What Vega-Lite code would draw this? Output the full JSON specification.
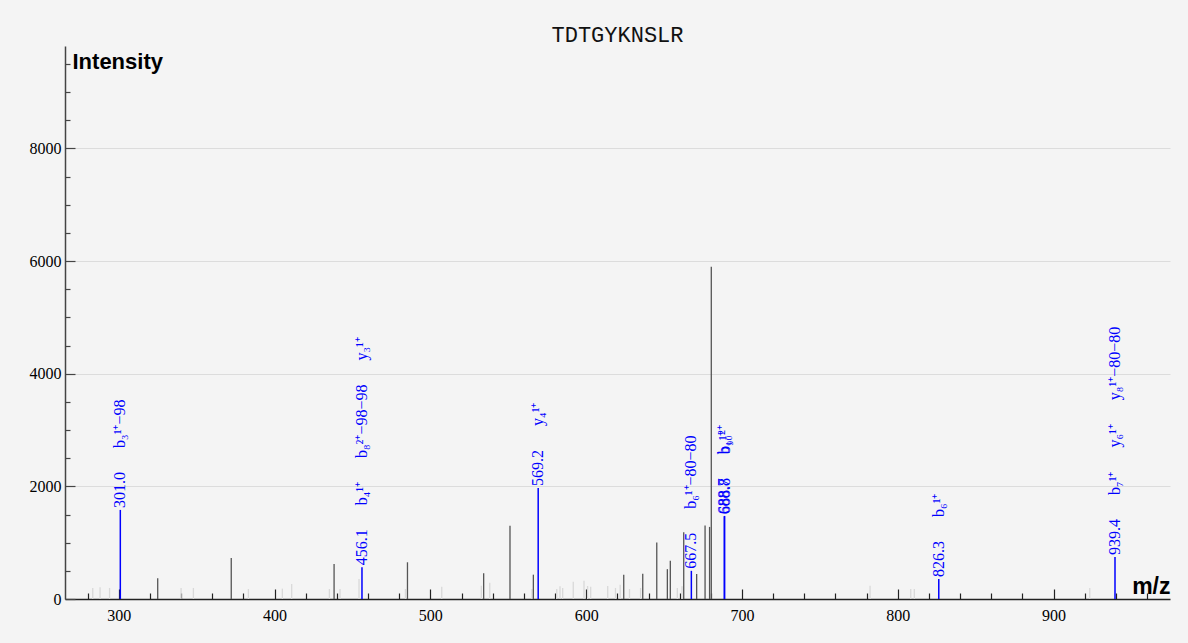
{
  "$schema": "https://vega.github.io/schema/vega-lite/v6.json",
  "width": 1105,
  "height": 553,
  "autosize": {"type": "none"},
  "padding": {"left": 65, "top": 46, "right": 18, "bottom": 44},
  "background": "#f4f4f4",
  "title": {"text": "TDTGYKNSLR", "font": "Courier New, Liberation Mono, monospace", "fontSize": 22, "fontWeight": "normal", "color": "#111", "anchor": "middle", "baseline": "alphabetic", "offset": 5, "dy": 23},
  "config": {"view": {"stroke": null}},
  "datasets": {
    "peaks": [
      {"mz": 283.3, "i": 196, "c": "l"}, {"mz": 288.0, "i": 207, "c": "l"}, {"mz": 294.1, "i": 196, "c": "l"},
      {"mz": 325.0, "i": 368, "c": "d"}, {"mz": 340.0, "i": 196, "c": "l"}, {"mz": 347.9, "i": 196, "c": "l"},
      {"mz": 372.2, "i": 729, "c": "d"}, {"mz": 383.2, "i": 178, "c": "l"}, {"mz": 405.0, "i": 184, "c": "l"},
      {"mz": 411.0, "i": 267, "c": "l"}, {"mz": 435.2, "i": 178, "c": "l"}, {"mz": 438.2, "i": 620, "c": "d"},
      {"mz": 442.0, "i": 178, "c": "l"}, {"mz": 454.2, "i": 356, "c": "l"}, {"mz": 484.0, "i": 178, "c": "l"},
      {"mz": 485.3, "i": 652, "c": "d"}, {"mz": 507.3, "i": 219, "c": "l"}, {"mz": 532.7, "i": 237, "c": "l"},
      {"mz": 534.2, "i": 456, "c": "d"}, {"mz": 538.1, "i": 290, "c": "l"}, {"mz": 551.1, "i": 1300, "c": "d"},
      {"mz": 565.2, "i": 178, "c": "l"}, {"mz": 566.1, "i": 432, "c": "d"}, {"mz": 581.1, "i": 178, "c": "l"},
      {"mz": 583.2, "i": 225, "c": "l"}, {"mz": 584.9, "i": 196, "c": "l"}, {"mz": 591.7, "i": 308, "c": "l"},
      {"mz": 598.6, "i": 325, "c": "l"}, {"mz": 600.9, "i": 231, "c": "l"}, {"mz": 602.9, "i": 219, "c": "l"},
      {"mz": 613.8, "i": 231, "c": "l"}, {"mz": 618.8, "i": 196, "c": "l"}, {"mz": 621.8, "i": 255, "c": "l"},
      {"mz": 624.1, "i": 432, "c": "d"}, {"mz": 627.8, "i": 178, "c": "l"}, {"mz": 634.9, "i": 196, "c": "l"},
      {"mz": 636.3, "i": 450, "c": "d"}, {"mz": 645.3, "i": 1005, "c": "d"}, {"mz": 652.1, "i": 530, "c": "d"},
      {"mz": 654.0, "i": 678, "c": "d"}, {"mz": 658.5, "i": 196, "c": "l"}, {"mz": 661.5, "i": 225, "c": "l"},
      {"mz": 662.6, "i": 1184, "c": "d"}, {"mz": 670.9, "i": 444, "c": "d"}, {"mz": 676.3, "i": 1303, "c": "d"},
      {"mz": 679.2, "i": 1280, "c": "d"}, {"mz": 680.3, "i": 5902, "c": "d"}, {"mz": 782.2, "i": 237, "c": "l"},
      {"mz": 808.3, "i": 178, "c": "l"}, {"mz": 810.6, "i": 178, "c": "l"}, {"mz": 923.2, "i": 196, "c": "l"}
    ],
    "ann": [
      {"mz": 301.0, "i": 1582, "label": "301.0\u2003\u2002b₃¹⁺−98"},
      {"mz": 456.1, "i": 562, "label": "456.1\u2003\u2002b₄¹⁺\u2003\u2002b₈²⁺−98−98\u2003\u2002y₃¹⁺"},
      {"mz": 569.2, "i": 1973, "label": "569.2\u2003\u2002y₄¹⁺"},
      {"mz": 667.5, "i": 500, "label": "667.5\u2003\u2002b₆¹⁺−80−80"},
      {"mz": 688.7, "i": 1469, "label": "688.7\u2003\u2002b₁₀²⁺"},
      {"mz": 688.8, "i": 1475, "label": "688.8\u2003\u2002b₉¹⁺"},
      {"mz": 826.3, "i": 356, "label": "826.3\u2003\u2002b₆¹⁺"},
      {"mz": 939.4, "i": 747, "label": "939.4\u2003\u2002b₇¹⁺\u2003\u2002y₆¹⁺\u2003\u2002y₈¹⁺−80−80"}
    ]
  },
  "encoding": {
    "x": {
      "field": "mz", "type": "quantitative",
      "scale": {"domain": [265.5, 974.7], "nice": false, "zero": false},
      "axis": {
        "title": "m/z", "titleAngle": 0, "titleX": 1105, "titleY": -6, "titleAlign": "right", "titleBaseline": "alphabetic",
        "titleFont": "Liberation Sans", "titleFontSize": 23, "titleFontWeight": "bold", "titleColor": "#000",
        "values": [280,300,320,340,360,380,400,420,440,460,480,500,520,540,560,580,600,620,640,660,680,700,720,740,760,780,800,820,840,860,880,900,920,940,960],
        "labelExpr": "datum.value % 100 === 0 ? datum.label : ''",
        "format": "d",
        "labelFont": "Liberation Serif", "labelFontSize": 16, "labelColor": "#000",
        "labelPadding": 18, "labelBaseline": "top",
        "tickSize": {"condition": {"test": "datum.value % 100 === 0", "value": -10}, "value": -6},
        "tickColor": "#222", "tickWidth": 1.2,
        "domainColor": "#222", "domainWidth": 1.5,
        "grid": false
      }
    },
    "y": {
      "field": "i", "type": "quantitative",
      "scale": {"domain": [0, 9820], "nice": false},
      "axis": {
        "title": "Intensity", "titleAngle": 0, "titleX": 7, "titleY": 22, "titleAlign": "left", "titleBaseline": "alphabetic",
        "titleFont": "Liberation Sans", "titleFontSize": 22, "titleFontWeight": "bold", "titleColor": "#000",
        "values": [0,500,1000,1500,2000,2500,3000,3500,4000,4500,5000,5500,6000,6500,7000,7500,8000,8500,9000,9500],
        "labelExpr": "datum.value % 2000 === 0 ? datum.label : ''",
        "format": "d",
        "labelFont": "Liberation Serif", "labelFontSize": 16, "labelColor": "#000",
        "labelPadding": 14,
        "tickSize": {"condition": {"test": "datum.value % 2000 === 0", "value": -10}, "value": -5},
        "tickColor": "#444", "tickWidth": 1.2,
        "domainColor": "#444", "domainWidth": 1.5,
        "grid": true, "gridColor": "#dcdcdc", "gridWidth": 1,
        "gridOpacity": {"condition": {"test": "datum.value % 2000 === 0 && datum.value > 0", "value": 1}, "value": 0}
      }
    }
  },
  "layer": [
    {
      "data": {"name": "peaks"},
      "mark": {"type": "rule", "strokeWidth": 1.3},
      "encoding": {
        "y2": {"datum": 0},
        "color": {"field": "c", "type": "nominal", "scale": {"domain": ["d", "l"], "range": ["#555555", "#d9d9d9"]}, "legend": null}
      }
    },
    {
      "data": {"name": "ann"},
      "mark": {"type": "rule", "strokeWidth": 1.5, "color": "#0000ff"},
      "encoding": {"y2": {"datum": 0}}
    },
    {
      "data": {"name": "ann"},
      "mark": {"type": "text", "angle": 270, "align": "left", "baseline": "middle", "dx": 2, "font": "Liberation Serif", "fontSize": 16, "color": "#0000ff"},
      "encoding": {"text": {"field": "label"}}
    }
  ]
}
